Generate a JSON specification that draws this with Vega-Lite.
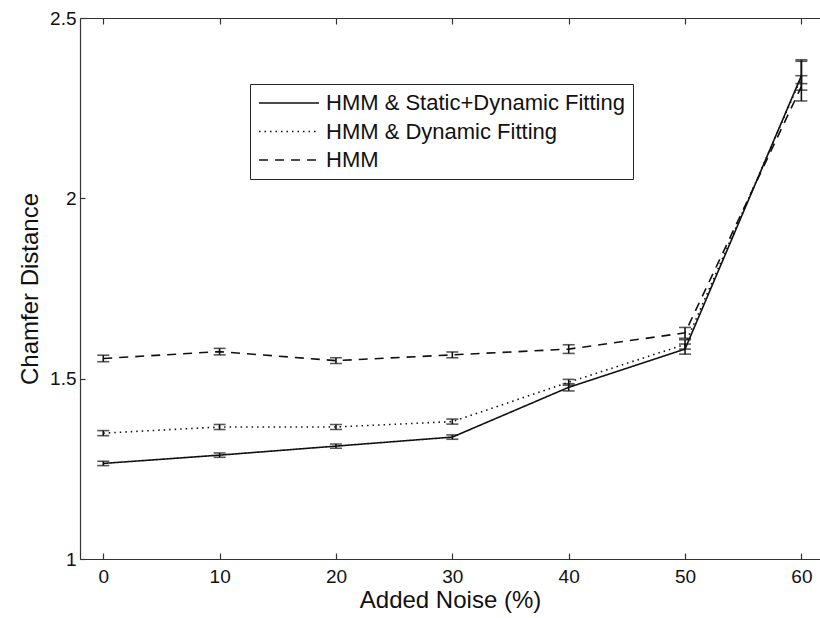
{
  "$schema": "https://vega.github.io/schema/vega-lite/v6.json",
  "width": 740,
  "height": 541,
  "autosize": "none",
  "padding": {"left": 80, "top": 18, "right": 0, "bottom": 59},
  "background": "white",
  "config": {
    "view": {"stroke": null},
    "font": "Liberation Sans",
    "axis": {"grid": false, "domainColor": "#333", "tickColor": "#333", "domainWidth": 1.2, "tickWidth": 1.2, "labelColor": "#111", "titleColor": "#111", "labelFont": "Liberation Sans", "titleFont": "Liberation Sans", "titleFontWeight": "normal"}
  },
  "data": {
    "values": [
      {"series": "HMM & Static+Dynamic Fitting", "x": 0, "y": 1.265, "lo": 1.259, "hi": 1.271},
      {"series": "HMM & Static+Dynamic Fitting", "x": 10, "y": 1.288, "lo": 1.282, "hi": 1.294},
      {"series": "HMM & Static+Dynamic Fitting", "x": 20, "y": 1.313, "lo": 1.307, "hi": 1.319},
      {"series": "HMM & Static+Dynamic Fitting", "x": 30, "y": 1.338, "lo": 1.332, "hi": 1.344},
      {"series": "HMM & Static+Dynamic Fitting", "x": 40, "y": 1.476, "lo": 1.466, "hi": 1.486},
      {"series": "HMM & Static+Dynamic Fitting", "x": 50, "y": 1.582, "lo": 1.568, "hi": 1.596},
      {"series": "HMM & Static+Dynamic Fitting", "x": 60, "y": 2.34, "lo": 2.30, "hi": 2.38},
      {"series": "HMM & Dynamic Fitting", "x": 0, "y": 1.349, "lo": 1.342, "hi": 1.356},
      {"series": "HMM & Dynamic Fitting", "x": 10, "y": 1.366, "lo": 1.359, "hi": 1.373},
      {"series": "HMM & Dynamic Fitting", "x": 20, "y": 1.366, "lo": 1.359, "hi": 1.373},
      {"series": "HMM & Dynamic Fitting", "x": 30, "y": 1.381, "lo": 1.374, "hi": 1.388},
      {"series": "HMM & Dynamic Fitting", "x": 40, "y": 1.49, "lo": 1.482, "hi": 1.498},
      {"series": "HMM & Dynamic Fitting", "x": 50, "y": 1.595, "lo": 1.582, "hi": 1.608},
      {"series": "HMM & Dynamic Fitting", "x": 60, "y": 2.335, "lo": 2.318, "hi": 2.384},
      {"series": "HMM", "x": 0, "y": 1.556, "lo": 1.547, "hi": 1.565},
      {"series": "HMM", "x": 10, "y": 1.575, "lo": 1.566, "hi": 1.584},
      {"series": "HMM", "x": 20, "y": 1.55, "lo": 1.542, "hi": 1.558},
      {"series": "HMM", "x": 30, "y": 1.566, "lo": 1.558, "hi": 1.574},
      {"series": "HMM", "x": 40, "y": 1.582, "lo": 1.57, "hi": 1.594},
      {"series": "HMM", "x": 50, "y": 1.627, "lo": 1.612, "hi": 1.642},
      {"series": "HMM", "x": 60, "y": 2.31, "lo": 2.27, "hi": 2.34}
    ]
  },
  "layer": [
    {
      "mark": {"type": "line", "strokeWidth": 1.6, "color": "#111"},
      "encoding": {
        "x": {
          "field": "x", "type": "quantitative",
          "scale": {"domain": [-2, 61.6], "nice": false, "zero": false},
          "axis": {"orient": "bottom", "values": [0, 10, 20, 30, 40, 50, 60], "tickSize": -6, "labelPadding": 14, "labelFontSize": 19, "title": "Added Noise (%)", "titleFontSize": 24, "titlePadding": 2}
        },
        "y": {
          "field": "y", "type": "quantitative",
          "scale": {"domain": [1, 2.5], "nice": false, "zero": false},
          "axis": {"values": [1, 1.5, 2, 2.5], "format": "~g", "tickSize": -5, "labelPadding": 9, "labelFontSize": 19, "title": "Chamfer Distance", "titleFontSize": 24, "titlePadding": 7}
        },
        "strokeDash": {
          "field": "series", "type": "nominal",
          "scale": {"domain": ["HMM & Static+Dynamic Fitting", "HMM & Dynamic Fitting", "HMM"], "range": [[1, 0], [1.5, 4], [9, 7]]},
          "legend": {"orient": "none", "legendX": 170, "legendY": 66, "title": null, "labelFontSize": 22, "labelFont": "Liberation Sans", "labelColor": "#111", "labelLimit": 0, "symbolType": "stroke", "symbolSize": 3600, "symbolStrokeWidth": 1.6, "symbolStrokeColor": "#111", "clipHeight": 22, "rowPadding": 6.5, "padding": 8, "strokeColor": "#222", "fillColor": "white", "labelOffset": 6, "symbolOffset": 0}
        }
      }
    },
    {
      "mark": {"type": "errorbar", "ticks": {"size": 12, "thickness": 1.6, "color": "#111"}, "thickness": 1.6, "color": "#111"},
      "encoding": {
        "x": {
          "field": "x", "type": "quantitative",
          "axis": {"orient": "top", "values": [0, 10, 20, 30, 40, 50, 60], "tickSize": -6, "labels": false, "title": null}
        },
        "y": {"field": "lo", "type": "quantitative", "title": "Chamfer Distance"},
        "y2": {"field": "hi"},
        "detail": {"field": "series"}
      }
    }
  ],
  "resolve": {"axis": {"x": "independent"}}
}
